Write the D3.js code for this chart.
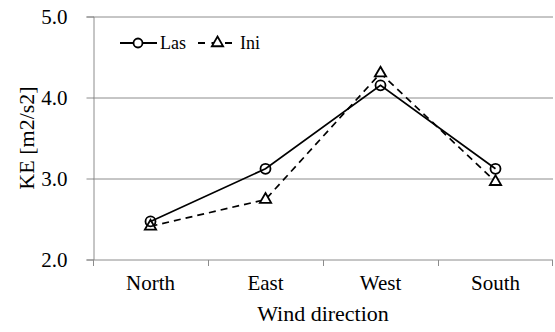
<!DOCTYPE html>
<html lang="en">
<head>
<meta charset="UTF-8">
<title>KE by wind direction</title>
<script src="https://d3js.org/d3.v7.min.js"></script>
<style>
  body { margin: 0; background: #fff; }
  svg text { font-family: "Liberation Serif", serif !important; fill: #000; }
  .grid line { stroke: #8c8c8c; stroke-width: 1px; }
  .axis path, .axis line { stroke: #8c8c8c; }
</style>
</head>
<body>
<div id="chart"></div>
<script>
const categories = ['North', 'East', 'West', 'South'];
const lasValues = [2.47, 3.12, 4.15, 3.12];
const iniValues = [2.41, 2.74, 4.30, 2.96];
const yTicks = [2.0, 3.0, 4.0, 5.0];

const W = 555, H = 332;
const margin = { top: 16.5, right: 2, bottom: 72.5, left: 93 };
const width = W - margin.left - margin.right;
const height = H - margin.top - margin.bottom;

const svg = d3.select('#chart').append('svg')
  .attr('width', W)
  .attr('height', H)
  .attr('font-family', 'Liberation Serif');

const g = svg.append('g')
  .attr('transform', `translate(${margin.left},${margin.top})`);

const x = d3.scaleBand().domain(categories).range([0, width]);
const y = d3.scaleLinear().domain([2, 5]).range([height, 0]);

// horizontal gridlines
g.append('g').attr('class', 'grid')
  .selectAll('line')
  .data(yTicks.slice(1))
  .join('line')
  .attr('x1', 0).attr('x2', width)
  .attr('y1', d => Math.round(y(d)) + 0.5)
  .attr('y2', d => Math.round(y(d)) + 0.5);

// y axis
const yAxis = g.append('g').attr('class', 'axis')
  .attr('transform', 'translate(0.5,0)')
  .call(d3.axisLeft(y).tickValues(yTicks).tickFormat(d3.format('.1f')).tickSize(7).tickPadding(19));
yAxis.attr('font-family', 'Liberation Serif');
yAxis.selectAll('text').style('font-size', '21px');

// x axis
const xAxis = g.append('g').attr('class', 'axis')
  .attr('transform', `translate(0,${Math.round(height) + 0.5})`)
  .call(d3.axisBottom(x).tickSize(0).tickPadding(15));
xAxis.attr('font-family', 'Liberation Serif');
xAxis.select('.domain').attr('d', `M0,0H${width}`);
xAxis.selectAll('text').style('font-size', '21px');
// category boundary ticks
xAxis.selectAll('.bound')
  .data(d3.range(categories.length + 1))
  .join('line')
  .attr('class', 'bound')
  .attr('x1', i => Math.round(i * x.step()) + (i === categories.length ? -0.5 : 0.5))
  .attr('x2', i => Math.round(i * x.step()) + (i === categories.length ? -0.5 : 0.5))
  .attr('y1', 0).attr('y2', 6);

// axis titles
svg.append('text')
  .attr('x', margin.left + width / 2)
  .attr('y', 321)
  .attr('text-anchor', 'middle')
  .style('font-size', '22px')
  .text('Wind direction');

svg.append('text')
  .attr('transform', `translate(34,${margin.top + height / 2}) rotate(-90)`)
  .attr('text-anchor', 'middle')
  .style('font-size', '22px')
  .text('KE [m2/s2]');

const cx = d => x(d) + x.bandwidth() / 2;
const line = vals => d3.line().x((d, i) => cx(categories[i])).y(d => y(d))(vals);

const triangle = d3.symbol().type(d3.symbolTriangle).size(55);

// Ini series (dashed, triangles)
g.append('path')
  .attr('d', line(iniValues))
  .attr('fill', 'none')
  .attr('stroke', '#000')
  .attr('stroke-width', 1.7)
  .attr('stroke-dasharray', '7,5');

g.selectAll('.tri')
  .data(iniValues)
  .join('path')
  .attr('class', 'tri')
  .attr('d', triangle)
  .attr('transform', (d, i) => `translate(${cx(categories[i])},${y(d)})`)
  .attr('fill', '#fff')
  .attr('stroke', '#000')
  .attr('stroke-width', 1.8);

// Las series (solid, circles)
g.append('path')
  .attr('d', line(lasValues))
  .attr('fill', 'none')
  .attr('stroke', '#000')
  .attr('stroke-width', 1.7);

g.selectAll('.dot')
  .data(lasValues)
  .join('circle')
  .attr('class', 'dot')
  .attr('cx', (d, i) => cx(categories[i]))
  .attr('cy', d => y(d))
  .attr('r', 5)
  .attr('fill', 'none')
  .attr('stroke', '#000')
  .attr('stroke-width', 1.8);

// legend
const lg = svg.append('g').attr('transform', 'translate(120,43)');
lg.append('line').attr('x1', 0).attr('x2', 37).attr('y1', 0).attr('y2', 0)
  .attr('stroke', '#000').attr('stroke-width', 1.8);
lg.append('circle').attr('cx', 18).attr('cy', 0).attr('r', 4.5)
  .attr('fill', '#fff').attr('stroke', '#000').attr('stroke-width', 1.8);
lg.append('text').attr('x', 40).attr('y', 6).style('font-size', '18px').text('Las');

lg.append('line').attr('x1', 78).attr('x2', 117).attr('y1', 0).attr('y2', 0)
  .attr('stroke', '#000').attr('stroke-width', 1.8).attr('stroke-dasharray', '7,6.5');
lg.append('path').attr('d', triangle).attr('transform', 'translate(97.5,0)')
  .attr('fill', '#fff').attr('stroke', '#000').attr('stroke-width', 1.8);
lg.append('text').attr('x', 120).attr('y', 6).style('font-size', '18px').text('Ini');
</script>
</body>
</html>
